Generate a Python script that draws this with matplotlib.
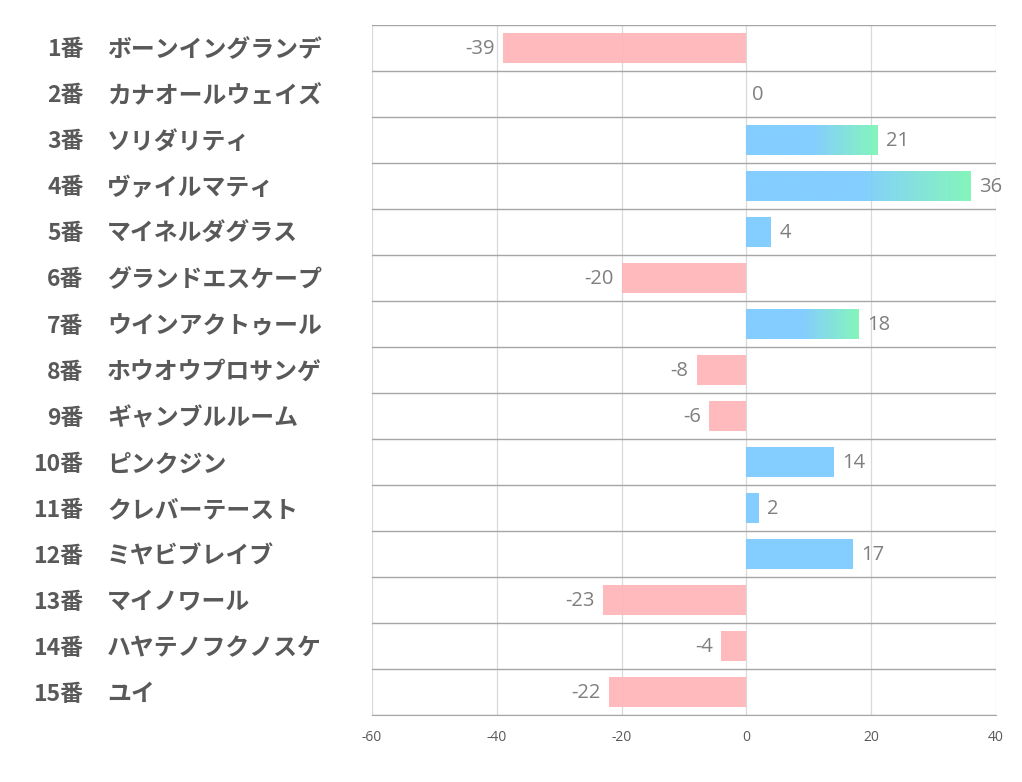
import matplotlib
matplotlib.use("Agg")
import matplotlib.pyplot as plt
import numpy as np
from matplotlib.colors import LinearSegmentedColormap
from matplotlib.transforms import offset_copy

plt.rcParams['font.family'] = ['Noto Sans CJK JP', 'DejaVu Sans']

numbers = ["1番", "2番", "3番", "4番", "5番", "6番", "7番", "8番", "9番", "10番",
           "11番", "12番", "13番", "14番", "15番"]
names = ["ボーンイングランデ", "カナオールウェイズ", "ソリダリティ", "ヴァイルマティ",
         "マイネルダグラス", "グランドエスケープ", "ウインアクトゥール", "ホウオウプロサンゲ",
         "ギャンブルルーム", "ピンクジン", "クレバーテースト", "ミヤビブレイブ",
         "マイノワール", "ハヤテノフクノスケ", "ユイ"]
values = [-39, 0, 21, 36, 4, -20, 18, -8, -6, 14, 2, 17, -23, -4, -22]
xticks = [-60, -40, -20, 0, 20, 40]

blue = "#7DCBFF"
green = "#7EF5B8"
pink = "#FFB3B6"
label_color = "#595959"
value_color = "#7F7F7F"

fig = plt.figure(figsize=(10.22, 7.82), dpi=100)
ax = fig.add_axes([0.364, 0.0857, 0.6106, 0.8825])

n = len(values)
ys = np.arange(n)
ax.set_xlim(-60, 40)
ax.set_ylim(n - 0.5, -0.5)

for x in xticks:
    ax.axvline(x, color="#D9D9D9", lw=0.9, zorder=1)
for b in np.arange(n + 1) - 0.5:
    ax.axhline(b, color="#A6A6A6", lw=1.0, zorder=1)

bh = 0.65
cmap = LinearSegmentedColormap.from_list("bg", [blue, green])
vfont = ['Open Sans', 'DejaVu Sans']
for y, v in zip(ys, values):
    if v < 0:
        ax.barh(y, v, height=bh, color=pink, alpha=0.9, zorder=2)
    elif v > 0:
        if v >= 18:
            grad = np.concatenate([np.zeros(50), np.linspace(0, 1, 50)])[None, :]
            ax.imshow(grad, cmap=cmap, extent=[0, v, y + bh / 2, y - bh / 2],
                      aspect="auto", zorder=2, alpha=0.95, interpolation="bilinear")
        else:
            ax.barh(y, v, height=bh, color=blue, alpha=0.95, zorder=2)
    if v < 0:
        ax.annotate(str(v), (v, y), xytext=(-6, -1), textcoords="offset points",
                    ha="right", va="center", fontsize=14.5, color=value_color,
                    family=vfont)
    else:
        ax.annotate(str(v), (v, y), xytext=(6 if v > 0 else 4, -1), textcoords="offset points",
                    ha="left", va="center", fontsize=14.5, color=value_color,
                    family=vfont)

ax.set_ylim(n - 0.5, -0.5)
ax.set_xlim(-60, 40)
ax.set_xticks(xticks)
ax.set_xticklabels([str(t) for t in xticks], fontsize=10, color=label_color,
                   family=vfont)
ax.tick_params(axis="x", length=0, pad=11)
ax.set_yticks([])
for s in ["top", "right", "left"]:
    ax.spines[s].set_visible(False)
ax.spines["bottom"].set_color("#A6A6A6")
ax.spines["bottom"].set_zorder(3)

# row labels
tr = offset_copy(ax.get_yaxis_transform(), fig=fig, x=0, y=-1.5, units="points")
for y, num, name in zip(ys, numbers, names):
    ax.text(-0.4625, y, num, transform=tr, ha="right", va="center",
            fontsize=16.5, fontweight="bold", color=label_color)
    ax.text(-0.4245, y, name, transform=tr, ha="left", va="center",
            fontsize=17.2, fontweight="bold", color=label_color)

fig.savefig("out.png", dpi=100)
